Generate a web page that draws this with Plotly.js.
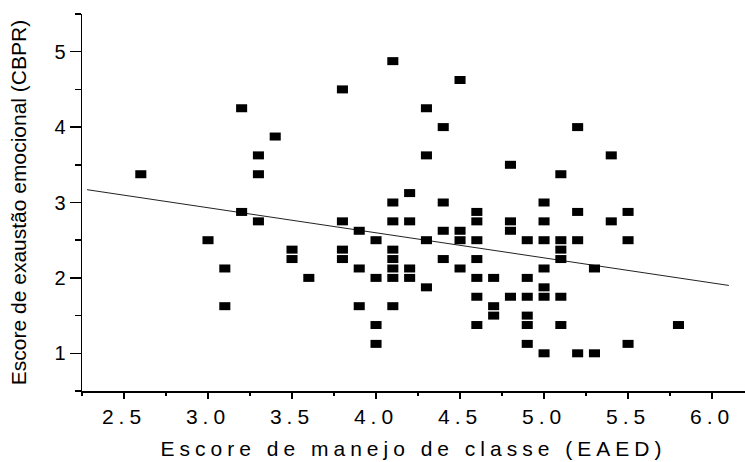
<!DOCTYPE html>
<html>
<head>
<meta charset="utf-8">
<script src="https://cdn.plot.ly/plotly-3.0.1.min.js"></script>
<style>
  html, body { margin: 0; padding: 0; background: #fff; }
  #chart { width: 745px; height: 462px; }
  .xtick text, .g-xtitle text { letter-spacing: 5px; }
</style>
</head>
<body>
<div id="chart"></div>
<script>
// Escore de manejo de classe (EAED)
const xValues = [
  2.6, 3.0, 3.1, 3.1, 3.2, 3.2, 3.3, 3.3, 3.3, 3.4,
  3.5, 3.5, 3.6, 3.8, 3.8, 3.8, 3.8, 3.9, 3.9, 3.9,
  4.0, 4.0, 4.0, 4.0, 4.1, 4.1, 4.1, 4.1, 4.1, 4.1,
  4.1, 4.1, 4.2, 4.2, 4.2, 4.2, 4.3, 4.3, 4.3, 4.3,
  4.4, 4.4, 4.4, 4.4, 4.5, 4.5, 4.5, 4.5, 4.6, 4.6,
  4.6, 4.6, 4.6, 4.6, 4.6, 4.7, 4.7, 4.7, 4.8, 4.8,
  4.8, 4.8, 4.9, 4.9, 4.9, 4.9, 4.9, 4.9, 5.0, 5.0,
  5.0, 5.0, 5.0, 5.0, 5.0, 5.1, 5.1, 5.1, 5.1, 5.1,
  5.1, 5.2, 5.2, 5.2, 5.2, 5.3, 5.3, 5.4, 5.4, 5.5,
  5.5, 5.5, 5.8
];
// Escore de exaustão emocional (CBPR)
const yValues = [
  3.375, 2.5, 2.125, 1.625, 4.25, 2.875, 3.625, 3.375, 2.75, 3.875,
  2.375, 2.25, 2.0, 4.5, 2.75, 2.375, 2.25, 2.625, 2.125, 1.625,
  2.5, 2.0, 1.375, 1.125, 4.875, 3.0, 2.75, 2.375, 2.25, 2.125,
  2.0, 1.625, 3.125, 2.75, 2.125, 2.0, 4.25, 3.625, 2.5, 1.875,
  4.0, 3.0, 2.625, 2.25, 4.625, 2.625, 2.5, 2.125, 2.875, 2.75,
  2.5, 2.25, 2.0, 1.75, 1.375, 2.0, 1.625, 1.5, 3.5, 2.75,
  2.625, 1.75, 2.5, 2.0, 1.75, 1.5, 1.375, 1.125, 3.0, 2.75,
  2.5, 2.125, 1.875, 1.75, 1.0, 3.375, 2.5, 2.375, 2.25, 1.75,
  1.375, 4.0, 2.875, 2.5, 1.0, 2.125, 1.0, 3.625, 2.75, 2.875,
  2.5, 1.125, 1.375
];
// Linear fit line (endpoints)
const fitX = [2.28, 6.1];
const fitY = [3.17, 1.9];

const xTickVals = [2.5, 3.0, 3.5, 4.0, 4.5, 5.0, 5.5, 6.0];
const xTickText = ['2.5', '3.0', '3.5', '4.0', '4.5', '5.0', '5.5', '6.0'];
const yTickVals = [1, 2, 3, 4, 5];
const yTickText = ['1', '2', '3', '4', '5'];

const xTitle = 'Escore de manejo de classe (EAED)';
const yTitle = 'Escore de exaustão emocional (CBPR)';

const FONT = '"Liberation Sans", Arial, sans-serif';

const traces = [
  {
    x: fitX, y: fitY, type: 'scatter', mode: 'lines',
    line: { color: '#222', width: 1 },
    hoverinfo: 'skip', showlegend: false
  },
  {
    x: xValues, y: yValues, type: 'scatter', mode: 'markers',
    marker: {
      symbol: 'line-ew', size: 7.9, color: '#000',
      line: { color: '#000', width: 8 }
    },
    showlegend: false
  }
];

const layout = {
  width: 745, height: 462,
  margin: { l: 82, r: 0, t: 14, b: 71, pad: 0 },
  paper_bgcolor: '#fff', plot_bgcolor: '#fff',
  showlegend: false,
  font: { family: FONT, color: '#000' },
  xaxis: {
    range: [2.25, 6.196],
    showgrid: false, zeroline: false,
    showline: true, linecolor: '#000', linewidth: 1.5,
    ticks: 'outside', ticklen: 6, tickwidth: 1.5, tickcolor: '#000',
    tickmode: 'array', tickvals: xTickVals, ticktext: xTickText,
    tickfont: { family: FONT, size: 21, color: '#000' },
    minor: { dtick: 0.25, tick0: 2.25, ticks: 'outside', ticklen: 3, tickwidth: 1.5, tickcolor: '#000' },
    title: { text: xTitle, font: { family: FONT, size: 21, color: '#000' }, standoff: 14 },
    fixedrange: true
  },
  yaxis: {
    range: [0.5, 5.5],
    showgrid: false, zeroline: false,
    showline: true, linecolor: '#000', linewidth: 1.5,
    ticks: 'outside', ticklen: 11, tickwidth: 1.5, tickcolor: '#000',
    tickmode: 'array', tickvals: yTickVals, ticktext: yTickText,
    tickfont: { family: FONT, size: 20, color: '#000' },
    minor: { dtick: 0.5, tick0: 0.5, ticks: 'outside', ticklen: 6, tickwidth: 1.5, tickcolor: '#000' },
    title: { text: yTitle, font: { family: FONT, size: 21, color: '#000' }, standoff: 22 },
    fixedrange: true
  }
};

Plotly.newPlot('chart', traces, layout, { staticPlot: true, displayModeBar: false });
</script>
</body>
</html>
